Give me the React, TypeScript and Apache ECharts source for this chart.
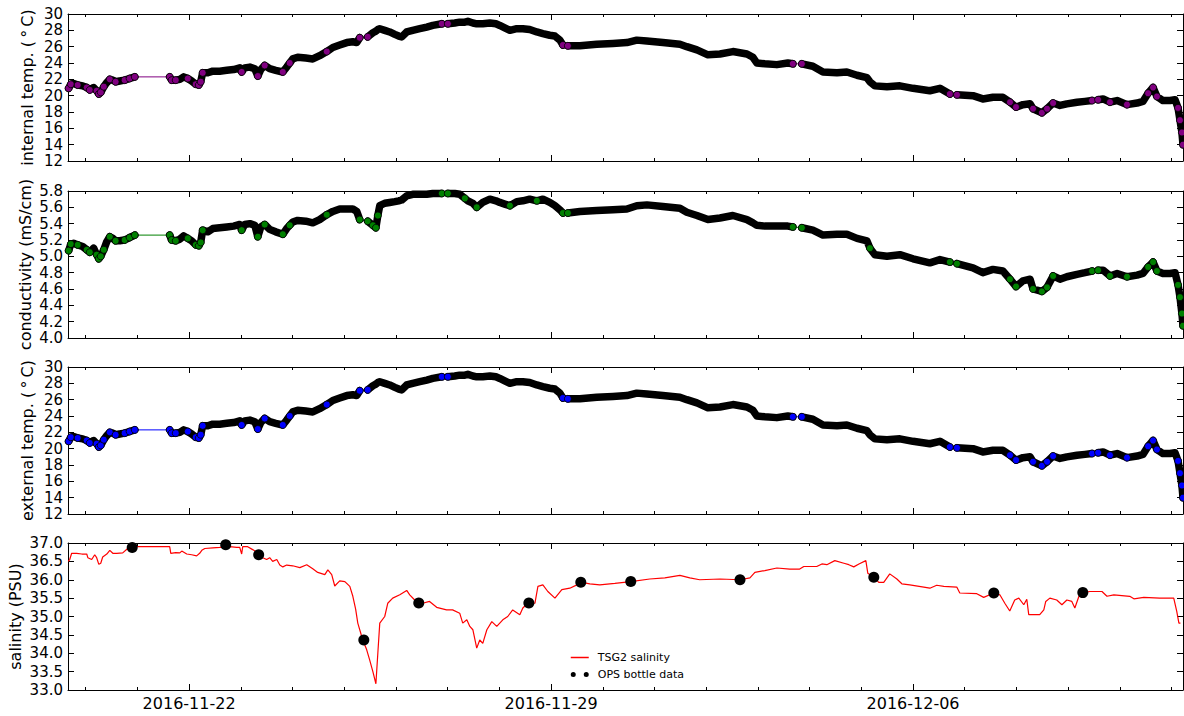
import React, { useEffect, useRef } from "react";
import * as echarts from "echarts";

// hours are counted from 2016-11-19 00:00 UTC
const BASE_UTC = Date.UTC(2016, 10, 19);
const X_MIN_HOUR = 15.8;
const X_MAX_HOUR = 533.3;

const majorTickLabels = ["2016-11-22", "2016-11-29", "2016-12-06"];
const dailyTickHours = [24, 48, 72, 96, 120, 144, 168, 192, 216, 240, 264, 288, 312, 336, 360, 384, 408, 432, 456, 480, 504, 528];

const tempTicks = [12, 30, 2];
const condTicks = [4.0, 5.8, 0.2];
const salTicks = [33.0, 37.0, 0.5];

// CTD samples (null = no data in that stretch)
const ctdHours = [
  16.1, 17.1, 18.4, 20.3, 22.6, 24.5, 25.9, 27.7, 29.1, 30.1, 31.0, 32.4, 33.8, 35.2, 36.6, 37.9, 39.8, 42.1, 44.4, 46.8,
  55.0,
  63.0, 63.9, 65.8, 67.7, 69.5, 71.4, 73.2, 75.1, 76.5, 77.4, 78.3, 80.7, 83.0, 86.2, 89.5, 92.7, 95.5, 96.4, 97.8, 100.2,
  102.5, 103.9, 105.3, 107.1, 109.4, 112.2, 115.5, 117.3, 118.7, 120.1, 122.4, 126.2, 129.4, 132.6, 135.9, 138.7, 141.9,
  145.2, 148.0, 149.8, 151.2,
  153.0,
  154.9, 157.3, 158.7, 159.6, 160.5, 162.8, 165.1, 167.5, 169.3, 170.7, 173.0, 175.8, 179.1, 182.3, 185.1, 189.3,
  190.7,
  192.1, 195.3, 197.6, 200.0, 201.4, 203.7, 205.5, 208.3, 211.6, 214.4, 216.2, 218.5, 220.9, 224.1, 226.9, 230.1, 233.4,
  236.2, 239.4, 241.8, 244.1, 245.5,
  246.6,
  247.8, 253.4, 261.2, 268.7, 275.2, 279.8, 284.5, 291.9, 299.8, 303.0, 307.7, 312.8, 318.4, 324.4, 330.9, 333.7, 335.5,
  339.2, 344.8, 349.9, 352.2,
  354.3,
  356.4, 361.5, 366.2, 372.7, 377.3, 382.0, 386.6, 388.0, 390.3, 395.9, 401.9, 408.0, 415.8, 420.5, 425.1,
  426.8,
  428.4, 435.8, 440.4, 445.1, 449.7, 453.0, 455.8, 459.0, 462.3, 463.7, 467.8, 470.2, 473.0, 476.2, 479.4, 484.1, 487.8,
  491.1,
  492.5,
  493.9, 496.2, 499.4, 502.7, 507.3, 512.0, 514.7, 517.1, 519.4, 521.2, 524.0, 527.3, 529.6, 531.0, 531.9, 532.8, 533.3,
];

const internalTemp = [
  20.9, 21.4, 21.5, 21.3, 21.2, 21.0, 20.7, 21.0, 20.6, 20.2, 20.4, 21.1, 21.6, 22.0, 21.9, 21.7, 21.8, 21.9, 22.1, 22.3,
  null,
  22.3, 21.9, 21.9, 22.0, 22.3, 22.1, 21.8, 21.4, 21.3, 21.7, 22.8, 22.8, 23.0, 23.0, 23.1, 23.2, 23.4, 22.9, 23.4, 23.5,
  23.3, 22.4, 23.2, 23.7, 23.3, 23.1, 22.9, 23.5, 24.0, 24.5, 24.7, 24.6, 24.5, 24.9, 25.4, 25.9, 26.2,
  26.5, 26.6, 26.5, 27.1,
  null,
  27.2, 27.7, 27.9, 28.1, 28.2, 28.0, 27.8, 27.5, 27.3, 27.2, 27.8, 28.0, 28.2, 28.4, 28.6, 28.8,
  null,
  28.8, 28.9, 29.0, 29.0, 29.1, 28.9, 28.8, 28.8, 28.9, 28.8, 28.6, 28.3, 28.0, 28.2, 28.2, 28.1, 27.8,
  27.6, 27.4, 27.3, 26.8, 26.2,
  null,
  26.1, 26.1, 26.3, 26.4, 26.5, 26.8, 26.7, 26.5, 26.3, 26.0, 25.6, 25.0, 25.1, 25.4, 25.1, 24.7, 24.0,
  23.9, 23.8, 24.0, 23.9,
  null,
  23.9, 23.6, 22.9, 22.8, 22.9, 22.5, 22.2, 21.7, 21.2, 21.1, 21.2, 20.9, 20.6, 20.9, 20.2,
  null,
  20.1, 20.0, 19.6, 19.8, 19.8, 19.2, 18.6, 18.9, 19.0, 18.4, 17.9, 18.4, 19.1, 18.8, 19.0, 19.2, 19.3,
  19.4,
  null,
  19.5, 19.6, 19.2, 19.4, 18.9, 19.1, 19.3, 20.3, 21.0, 19.9, 19.4, 19.4, 19.5, 18.5, 17.0, 15.5, 14.0,
];

const conductivity = [
  5.07, 5.15, 5.16, 5.14, 5.12, 5.08, 5.05, 5.10, 5.02, 4.97, 5.00, 5.08, 5.18, 5.24, 5.22, 5.19, 5.19, 5.20, 5.23, 5.26,
  null,
  5.26, 5.20, 5.19, 5.21, 5.25, 5.22, 5.19, 5.14, 5.13, 5.17, 5.32, 5.30, 5.34, 5.35, 5.36, 5.37, 5.39, 5.32, 5.39, 5.40,
  5.38, 5.24, 5.36, 5.39, 5.33, 5.30, 5.27, 5.34, 5.38, 5.42, 5.44, 5.43, 5.41, 5.45, 5.51, 5.55, 5.58,
  5.58, 5.58, 5.55, 5.45,
  null,
  5.43, 5.38, 5.35, 5.50, 5.62, 5.65, 5.66, 5.67, 5.68, 5.69, 5.74, 5.76, 5.76, 5.76, 5.77, 5.77,
  null,
  5.77, 5.77, 5.76, 5.71, 5.68, 5.65, 5.60, 5.66, 5.70, 5.68, 5.66, 5.64, 5.62, 5.67, 5.68, 5.70, 5.68,
  5.70, 5.66, 5.62, 5.57, 5.53,
  null,
  5.53, 5.55, 5.56, 5.57, 5.58, 5.62, 5.63, 5.61, 5.59, 5.54, 5.50, 5.45, 5.47, 5.50, 5.45, 5.41, 5.38,
  5.37, 5.37, 5.37, 5.36,
  null,
  5.35, 5.32, 5.26, 5.27, 5.27, 5.22, 5.19, 5.10, 5.02, 5.00, 5.02, 4.97, 4.92, 4.96, 4.93,
  null,
  4.91, 4.86, 4.80, 4.84, 4.82, 4.72, 4.63, 4.70, 4.72, 4.60, 4.57, 4.62, 4.76, 4.72, 4.75, 4.78, 4.80,
  4.82,
  null,
  4.83, 4.83, 4.76, 4.79, 4.75, 4.77, 4.79, 4.87, 4.93, 4.82, 4.79, 4.79, 4.80, 4.65, 4.50, 4.30, 4.15,
];

const externalTemp = [
  20.9, 21.4, 21.5, 21.3, 21.2, 21.0, 20.7, 21.0, 20.6, 20.2, 20.4, 21.1, 21.6, 22.0, 21.9, 21.7, 21.8, 21.9, 22.1, 22.3,
  null,
  22.3, 21.9, 21.9, 22.0, 22.3, 22.1, 21.8, 21.4, 21.3, 21.7, 22.8, 22.8, 23.0, 23.0, 23.1, 23.2, 23.4, 22.9, 23.4, 23.5,
  23.3, 22.4, 23.2, 23.7, 23.3, 23.1, 22.9, 23.5, 24.0, 24.5, 24.7, 24.6, 24.5, 24.9, 25.4, 25.9, 26.2,
  26.5, 26.6, 26.5, 27.1,
  null,
  27.2, 27.7, 27.9, 28.1, 28.2, 28.0, 27.8, 27.5, 27.3, 27.2, 27.8, 28.0, 28.2, 28.4, 28.6, 28.8,
  null,
  28.8, 28.9, 29.0, 29.0, 29.1, 28.9, 28.8, 28.8, 28.9, 28.8, 28.6, 28.3, 28.0, 28.2, 28.2, 28.1, 27.8,
  27.6, 27.4, 27.3, 26.8, 26.2,
  null,
  26.1, 26.1, 26.3, 26.4, 26.5, 26.8, 26.7, 26.5, 26.3, 26.0, 25.6, 25.0, 25.1, 25.4, 25.1, 24.7, 24.0,
  23.9, 23.8, 24.0, 23.9,
  null,
  23.9, 23.6, 22.9, 22.8, 22.9, 22.5, 22.2, 21.7, 21.2, 21.1, 21.2, 20.9, 20.6, 20.9, 20.2,
  null,
  20.1, 20.0, 19.6, 19.8, 19.8, 19.2, 18.6, 18.9, 19.0, 18.4, 17.9, 18.4, 19.1, 18.8, 19.0, 19.2, 19.3,
  19.4,
  null,
  19.5, 19.6, 19.2, 19.4, 18.9, 19.1, 19.3, 20.3, 21.0, 19.9, 19.4, 19.4, 19.5, 18.5, 17.0, 15.5, 14.0,
];

// samples whose coloured face stays visible (sparse or jumping readings)
const tempDotHours = [
  16.1, 17.1, 20.3, 24.5, 25.9, 29.1, 30.1, 31.0, 32.4, 35.2, 37.9, 42.1, 44.4, 46.8, 63.0, 63.9, 65.8, 71.4, 75.1,
  76.5, 77.4, 78.3, 96.4, 103.9, 107.1, 115.5, 118.7, 135.9, 151.2, 154.9, 189.3, 192.1, 245.5, 247.8, 352.2, 356.4,
  425.1, 428.4, 453.0, 455.8, 463.7, 467.8, 470.2, 473.0, 491.1, 493.9, 499.4, 507.3, 517.1, 519.4, 521.2, 531.0,
  531.9, 532.8, 533.3,
];
const condDotHours = [
  16.1, 17.1, 20.3, 24.5, 25.9, 29.1, 30.1, 31.0, 32.4, 35.2, 37.9, 42.1, 44.4, 46.8, 63.0, 63.9, 65.8, 71.4, 75.1,
  76.5, 77.4, 78.3, 96.4, 103.9, 107.1, 115.5, 118.7, 135.9, 151.2, 154.9, 157.3, 158.7, 159.6, 189.3, 192.1, 200.0,
  205.5, 220.9, 233.4, 245.5, 247.8, 352.2, 356.4, 388.0, 425.1, 428.4, 453.0, 455.8, 463.7, 467.8, 470.2, 473.0,
  491.1, 493.9, 499.4, 507.3, 517.1, 519.4, 521.2, 531.0, 531.9, 532.8, 533.3,
];

const salinityHours = [
  15.9, 16.6, 17.5, 19.8, 22.2, 24.5, 25.0, 26.8, 28.2, 29.1, 30.1, 31.0, 31.9, 33.8, 35.2, 36.6, 38.4, 41.2, 43.5, 45.4,
  63.0, 63.5, 65.8, 67.7, 68.6, 70.9, 73.2, 75.5, 76.9, 77.9, 79.3, 83.0, 86.2, 90.9, 94.1, 95.5, 96.4, 96.9, 99.2,
  101.5, 103.4, 104.8, 106.2, 108.0, 109.4, 110.8, 112.7, 114.1, 115.5, 117.3, 120.1, 123.4, 126.6, 129.4, 131.7,
  135.0, 136.4, 138.2, 139.6, 141.9, 144.3, 146.6, 148.0, 149.3, 150.3, 152.6, 154.4, 155.8, 157.3, 158.7, 159.6,
  160.5, 162.8, 164.2, 166.5, 169.8, 173.0, 174.4, 176.7, 180.4, 183.6, 186.9, 191.5, 194.3, 197.6, 199.0, 200.9,
  202.3, 203.7, 205.5, 206.9, 208.3, 210.2, 212.5, 214.8, 217.6, 219.9, 222.2, 225.5, 226.9, 229.2, 232.5, 233.9,
  236.2, 238.5, 241.8, 245.0, 248.7, 252.0, 254.3, 258.0, 262.6, 269.6, 277.0, 285.8, 292.8, 299.8, 304.4, 309.0,
  318.4, 327.7, 332.3, 334.6, 339.2, 344.8, 350.8, 355.4, 357.3, 363.3, 365.7, 368.0, 371.7, 375.9, 378.2, 380.5,
  382.9, 386.1, 387.0, 389.8, 392.1, 394.4, 397.2, 400.5, 402.8, 406.5, 413.0, 415.8, 419.0, 422.3, 428.3, 429.7,
  437.6, 440.8, 445.5, 448.3, 450.6, 452.9, 455.2, 457.1, 459.4, 460.8, 461.7, 466.8, 468.7, 469.6, 471.5, 474.7,
  477.1, 479.4, 481.7, 483.1, 485.0, 486.8, 490.1, 495.7, 498.0, 501.2, 508.6, 510.5, 515.1, 522.5, 529.0, 530.4,
  531.4, 532.1,
];
const salinity = [
  36.5, 36.55, 36.72, 36.72, 36.7, 36.7, 36.6, 36.55, 36.68, 36.6, 36.42, 36.45, 36.62, 36.7, 36.8, 36.72, 36.72, 36.73, 36.85, 36.9,
  36.9, 36.72, 36.74, 36.73, 36.78, 36.7, 36.68, 36.65, 36.72, 36.8, 36.85, 36.87, 36.88, 36.9, 36.88, 36.88, 36.7, 36.9, 36.9,
  36.82, 36.75, 36.68, 36.6, 36.55, 36.6, 36.5, 36.55, 36.4, 36.35, 36.4, 36.38, 36.33, 36.41, 36.3, 36.2,
  36.14, 36.27, 36.14, 35.83, 35.97, 35.95, 35.82, 35.55, 35.2, 34.82, 34.36, 34.1, 33.82, 33.5, 33.17, 34.0,
  34.82, 35.0, 35.36, 35.5, 35.59, 35.71, 35.59, 35.45, 35.36, 35.41, 35.25, 35.18, 35.18, 35.09, 34.82, 34.91,
  34.73, 34.64, 34.14, 34.36, 34.27, 34.64, 34.86, 34.73, 34.91, 35.0, 35.18, 35.05, 35.23, 35.36, 35.36, 35.82,
  35.86, 35.68, 35.5, 35.73, 35.77, 35.86, 35.93, 35.89, 35.86, 35.9, 35.95, 36.02, 36.05, 36.12, 36.05, 36.0,
  36.02, 36.0, 36.05, 36.2, 36.25, 36.32, 36.29, 36.29, 36.36, 36.36, 36.43, 36.41, 36.52, 36.45, 36.41, 36.35,
  36.43, 36.52, 36.18, 36.07, 35.93, 35.93, 36.16, 36.02, 35.89, 35.86, 35.8, 35.77, 35.85, 35.82, 35.8, 35.64,
  35.62, 35.52, 35.64, 35.59, 35.36, 35.15, 35.45, 35.5, 35.32, 35.47, 35.05, 35.05, 35.18, 35.41, 35.5, 35.45,
  35.32, 35.45, 35.41, 35.23, 35.55, 35.65, 35.68, 35.68, 35.55, 35.59, 35.55, 35.48, 35.52, 35.5, 35.5, 35.14,
  34.82, 34.82,
];

const bottleHours = [45.6, 89.0, 104.3, 153.1, 178.6, 229.7, 253.8, 277.0, 327.7, 389.8, 445.5, 486.8];
const bottleSalinity = [36.88, 36.95, 36.68, 34.36, 35.37, 35.37, 35.93, 35.95, 36.0, 36.07, 35.64, 35.65];

const FONT = "DejaVu Sans";
const FS = 16;
const YFS = 15;
const GRID_TOPS = [14, 191, 367, 543];
const GRID_H = 147;

const hourOf = (d: string) => (Date.parse(d + "T00:00:00Z") - BASE_UTC) / 3600000;
const dateOf = (h: number) => new Date(BASE_UTC + h * 3600000).toISOString().slice(0, 10);

export default function App() {
  const ref = useRef<HTMLDivElement>(null);
  useEffect(() => {
    if (!ref.current) return;
    const chart = echarts.init(ref.current, null, { renderer: "svg" });
    const majorHours = majorTickLabels.map(hourOf);

    const xAxes: any[] = [];
    const yAxes: any[] = [];
    const grids: any[] = [];
    GRID_TOPS.forEach((top, i) => {
      grids.push({ left: 68, right: 1, top, height: GRID_H, containLabel: false, outerBoundsMode: "none" });
      (["bottom", "top"] as const).forEach((pos) => {
        xAxes.push({
          type: "value", gridIndex: i, position: pos, min: X_MIN_HOUR, max: X_MAX_HOUR,
          axisLine: { show: true, onZero: false, lineStyle: { color: "#000", width: 1 } },
          axisTick: { show: true, inside: true, length: 6, customValues: majorHours, lineStyle: { color: "#000" } },
          axisLabel: {
            show: i === 3 && pos === "bottom", customValues: majorHours, formatter: (v: number) => dateOf(v),
            fontSize: FS, color: "#000", fontFamily: FONT, margin: 5,
          },
          splitLine: { show: false },
        });
        xAxes.push({
          type: "value", gridIndex: i, position: pos, min: X_MIN_HOUR, max: X_MAX_HOUR,
          axisLine: { show: false, onZero: false },
          axisTick: { show: true, inside: true, length: 3, customValues: dailyTickHours, lineStyle: { color: "#000" } },
          axisLabel: { show: false },
          splitLine: { show: false },
        });
      });
      const ticks = [tempTicks, condTicks, tempTicks, salTicks][i];
      const names = ["internal temp. (\u2009°\u2009C)", "conductivity (mS/cm)", "external temp. (\u2009°\u2009C)", "salinity (PSU)"];
      const gaps = [33, 35, 33, 45];
      const fmt = (v: number) => (i === 0 || i === 2 ? String(Math.round(v)) : v.toFixed(1));
      (["left", "right"] as const).forEach((pos) => {
        yAxes.push({
          type: "value", gridIndex: i, position: pos, min: ticks[0], max: ticks[1], interval: ticks[2],
          name: pos === "left" ? names[i] : "", nameLocation: "middle", nameGap: gaps[i], nameMoveOverlap: false,
          nameTextStyle: { fontSize: FS, color: "#000", fontFamily: FONT },
          axisLine: { show: true, lineStyle: { color: "#000", width: 1 } },
          axisTick: { show: true, inside: true, length: 6, lineStyle: { color: "#000" } },
          axisLabel: {
            show: pos === "left", formatter: fmt, fontSize: YFS, lineHeight: 13, color: "#000", fontFamily: FONT, margin: 5,
          },
          splitLine: { show: false },
        });
      });
    });

    const series: any[] = [];
    const ctdPanels = [
      { values: internalTemp, color: "#800080", dots: tempDotHours },
      { values: conductivity, color: "#008000", dots: condDotHours },
      { values: externalTemp, color: "#0000ff", dots: tempDotHours },
    ];
    ctdPanels.forEach((p, i) => {
      const all = ctdHours.map((h, k) => [h, p.values[k]]);
      const filled = all.filter((d) => d[1] !== null);
      const dotData = p.dots.map((h) => [h, p.values[ctdHours.indexOf(h)]]);
      series.push({
        type: "line", xAxisIndex: i * 4, yAxisIndex: i * 2, data: filled, symbol: "none", silent: true,
        lineStyle: { color: p.color, width: 1 }, z: 2,
      });
      series.push({
        type: "line", xAxisIndex: i * 4, yAxisIndex: i * 2, data: all, symbol: "none", connectNulls: false, silent: true,
        lineStyle: { color: "#000", width: 7.5, cap: "round", join: "round" }, z: 3,
      });
      series.push({
        type: "scatter", xAxisIndex: i * 4, yAxisIndex: i * 2, data: dotData, symbol: "circle", symbolSize: 7, silent: true,
        itemStyle: { color: p.color, borderColor: "#000", borderWidth: 0.8, opacity: 1 }, z: 4,
      });
    });
    series.push({
      name: "TSG2 salinity", type: "line", xAxisIndex: 12, yAxisIndex: 6,
      data: salinityHours.map((h, k) => [h, salinity[k]]), symbol: "none", silent: true,
      lineStyle: { color: "#ff0000", width: 1.2 }, itemStyle: { color: "#ff0000" }, z: 3,
    });
    series.push({
      name: "OPS bottle data", type: "scatter", xAxisIndex: 12, yAxisIndex: 6,
      data: bottleHours.map((h, k) => [h, bottleSalinity[k]]), symbol: "circle", symbolSize: 11, silent: true,
      itemStyle: { color: "#000", opacity: 1 }, z: 4, clip: false,
    });

    chart.setOption({
      animation: false,
      backgroundColor: "#fff",
      textStyle: { fontFamily: FONT },
      grid: grids,
      xAxis: xAxes,
      yAxis: yAxes,
      legend: {
        orient: "vertical", left: 570, top: 652, padding: 0, itemGap: 6, itemWidth: 18, itemHeight: 5,
        selectedMode: false,
        textStyle: { fontSize: 11, color: "#000", fontFamily: FONT, padding: [0, 0, 0, 4] },
        data: [
          { name: "TSG2 salinity", itemStyle: { opacity: 0 }, lineStyle: { color: "#ff0000", width: 1.5, opacity: 1 } },
          {
            name: "OPS bottle data",
            icon: "path://M0,2.5a2.5,2.5 0 1,0 5,0a2.5,2.5 0 1,0 -5,0M13,2.5a2.5,2.5 0 1,0 5,0a2.5,2.5 0 1,0 -5,0",
          },
        ],
      },
      series,
    });
    return () => chart.dispose();
  }, []);
  return <div ref={ref} style={{ position: "fixed", left: 0, top: 0, width: 1184, height: 716, background: "#fff" }} />;
}
